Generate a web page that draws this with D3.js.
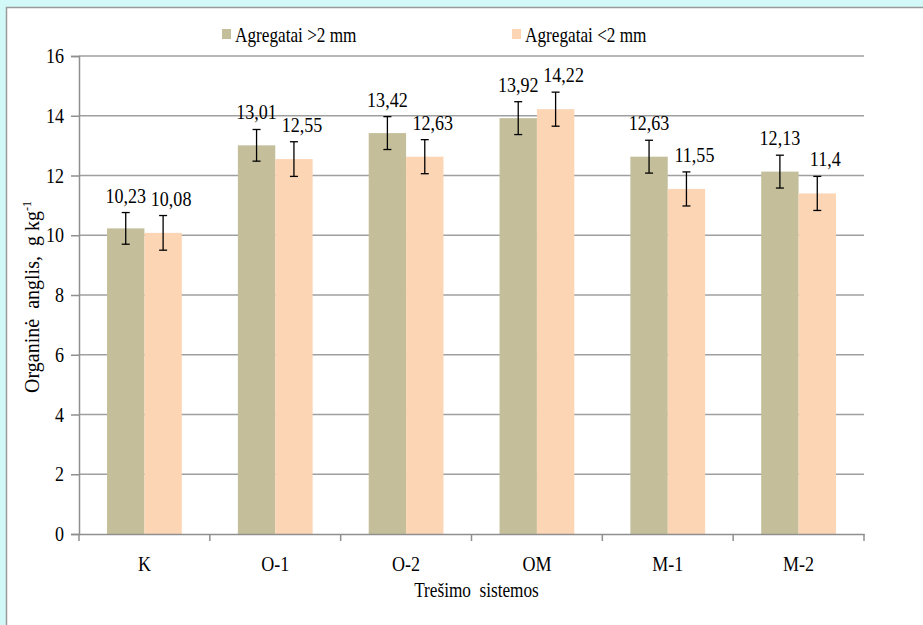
<!DOCTYPE html>
<html>
<head>
<meta charset="utf-8">
<script src="https://cdn.jsdelivr.net/npm/d3@7"></script>
<style>
  html, body { margin: 0; padding: 0; background: #d3f8f8; }
  svg { display: block; }
  svg text { fill: #000; white-space: pre; }
</style>
</head>
<body>
<svg id="chart" width="923" height="625"></svg>
<script>
const categories = ["K", "O-1", "O-2", "OM", "M-1", "M-2"];
const seriesNames = ["Agregatai >2 mm", "Agregatai <2 mm"];
const seriesAbove2 = [10.23, 13.01, 13.42, 13.92, 12.63, 12.13];
const seriesBelow2 = [10.08, 12.55, 12.63, 14.22, 11.55, 11.4];
const errAbove2 = [0.53, 0.53, 0.55, 0.55, 0.55, 0.55];
const errBelow2 = [0.58, 0.58, 0.57, 0.57, 0.57, 0.57];
const yTicks = [0, 2, 4, 6, 8, 10, 12, 14, 16];
const colors = ["#c4bf9a", "#fcd5b5"];
const xTitle = "Trešimo  sistemos";
const yTitle = "Organinė  anglis,  g kg";

const FONT = "Times New Roman, Liberation Serif, DejaVu Serif, serif";
const svg = d3.select("#chart");
const W = 923, H = 625;
const SX = 0.82; // horizontal compression of text
const labelDx = [0, 8]; // label nudge per series

// white panel
svg.append("rect").attr("x", 6.5).attr("y", 7.5).attr("width", W + 10).attr("height", H + 10)
  .attr("fill", "#fff").attr("stroke", "#9a9a9a").attr("stroke-width", 1.5);

const m = { left: 79, right: 864, top: 56, bottom: 534 };
const x0 = d3.scaleBand().domain(categories).range([m.left, m.right]).paddingInner(0).paddingOuter(0);
const x1 = d3.scaleBand().domain(seriesNames).range([0, x0.bandwidth()]).paddingInner(0).paddingOuter(0.75);
const y = d3.scaleLinear().domain([0, 16]).range([m.bottom, m.top]);

function ctext(g, x, yy, str, size, anchor) {
  return g.append("text")
    .attr("transform", `translate(${x},${yy}) scale(${SX},1)`)
    .attr("text-anchor", anchor || "middle")
    .style("font-family", FONT)
    .style("font-size", size + "px")
    .text(str);
}

// gridlines
svg.append("g").selectAll("line").data(yTicks.filter(t => t > 0)).join("line")
  .attr("x1", m.left).attr("x2", m.right)
  .attr("y1", d => y(d)).attr("y2", d => y(d))
  .attr("stroke", "#9f9f9f").attr("stroke-width", 1.5);

// bars
const rows = categories.map((c, i) => ({
  cat: c,
  vals: [
    { s: seriesNames[0], v: seriesAbove2[i], e: errAbove2[i], k: 0 },
    { s: seriesNames[1], v: seriesBelow2[i], e: errBelow2[i], k: 1 }
  ]
}));

const groups = svg.append("g").selectAll("g").data(rows).join("g")
  .attr("transform", d => `translate(${x0(d.cat)},0)`);

groups.selectAll("rect").data(d => d.vals).join("rect")
  .attr("x", d => x1(d.s)).attr("width", x1.bandwidth())
  .attr("y", d => y(d.v)).attr("height", d => y(0) - y(d.v))
  .attr("fill", d => colors[d.k]);

// error bars
const eb = groups.selectAll("g.err").data(d => d.vals).join("g").attr("class", "err")
  .attr("transform", d => `translate(${x1(d.s) + x1.bandwidth() / 2},0)`);
eb.append("line").attr("x1", 0).attr("x2", 0)
  .attr("y1", d => y(d.v + d.e)).attr("y2", d => y(d.v - d.e))
  .attr("stroke", "#000").attr("stroke-width", 1.3);
eb.append("line").attr("x1", -4).attr("x2", 4)
  .attr("y1", d => y(d.v + d.e)).attr("y2", d => y(d.v + d.e))
  .attr("stroke", "#000").attr("stroke-width", 1.3);
eb.append("line").attr("x1", -4).attr("x2", 4)
  .attr("y1", d => y(d.v - d.e)).attr("y2", d => y(d.v - d.e))
  .attr("stroke", "#000").attr("stroke-width", 1.3);

// data labels
eb.each(function(d) {
  ctext(d3.select(this), labelDx[d.k], y(d.v + d.e) - 10, String(d.v).replace(".", ","), 22);
});

// y axis
const yAxis = svg.append("g").attr("transform", `translate(${m.left},0)`)
  .call(d3.axisLeft(y).tickValues(yTicks).tickSize(8).tickPadding(0).tickFormat(() => ""));
yAxis.select(".domain").attr("stroke", "#8f8f8f").attr("stroke-width", 1.5);
yAxis.selectAll(".tick line").attr("stroke", "#8f8f8f").attr("stroke-width", 1.5);
yTicks.forEach(t => ctext(svg, 64, y(t) + 7, String(t), 22, "end"));

// x axis
const xAxis = svg.append("g").attr("transform", `translate(0,${m.bottom})`)
  .call(d3.axisBottom(x0).tickSize(0).tickFormat(() => ""));
xAxis.select(".domain").attr("stroke", "#8f8f8f").attr("stroke-width", 1.5);
xAxis.selectAll(".tick").remove();
const bounds = categories.map(c => x0(c)).concat([m.right]);
svg.append("g").selectAll("line").data(bounds).join("line")
  .attr("x1", d => d).attr("x2", d => d)
  .attr("y1", m.bottom).attr("y2", m.bottom + 7)
  .attr("stroke", "#8f8f8f").attr("stroke-width", 1.5);
categories.forEach(c => ctext(svg, x0(c) + x0.bandwidth() / 2, 571, c, 22));

// x title
ctext(svg, (m.left + m.right) / 2 + 5, 597, xTitle, 21);

// y title
const yt = svg.append("text")
  .attr("transform", `translate(39,297) rotate(-90)`)
  .attr("text-anchor", "middle")
  .style("font-family", FONT)
  .style("font-size", "20px");
yt.append("tspan").text(yTitle);
yt.append("tspan").attr("dy", -8).style("font-size", "12px").text("-1");

// legend
const leg = svg.append("g");
const legX = [222, 512];
seriesNames.forEach((s, i) => {
  leg.append("rect").attr("x", legX[i]).attr("y", 29).attr("width", 9).attr("height", 10).attr("fill", colors[i]);
  ctext(leg, legX[i] + 13, 42, s, 21, "start");
});
</script>
</body>
</html>
